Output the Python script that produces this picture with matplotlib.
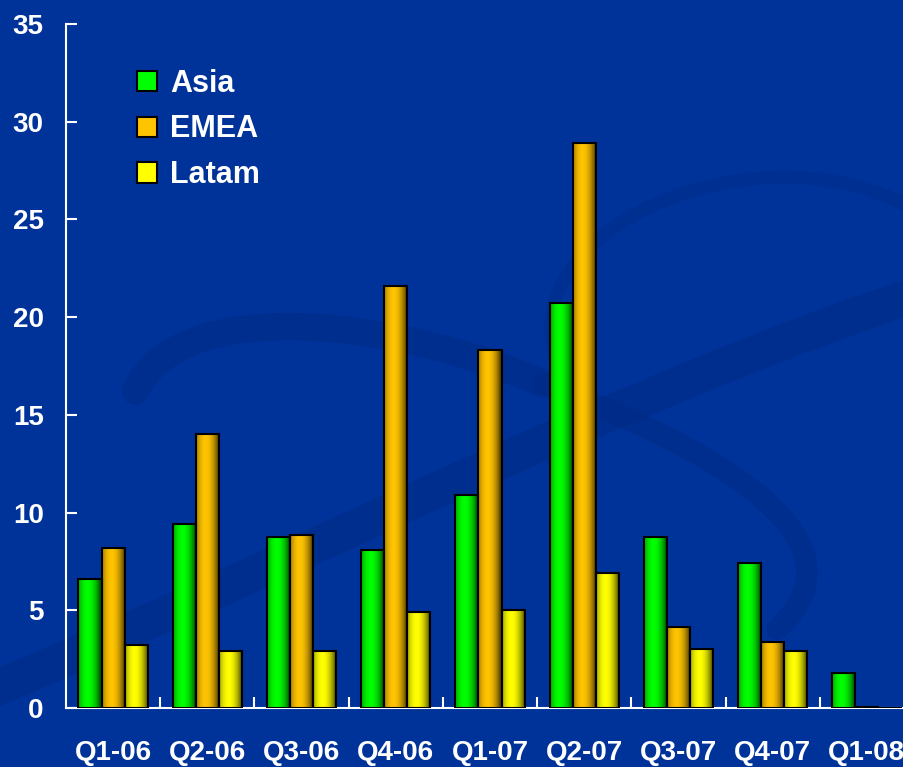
import numpy as np
import matplotlib
matplotlib.use("Agg")
import matplotlib.pyplot as plt
from matplotlib.patches import Patch, PathPatch
from matplotlib.path import Path
from matplotlib.colors import to_rgb

quarters = ["Q1-06", "Q2-06", "Q3-06", "Q4-06", "Q1-07", "Q2-07", "Q3-07", "Q4-07", "Q1-08"]
asia = [6.6, 9.4, 8.75, 8.1, 10.9, 20.7, 8.75, 7.4, 1.8]
emea = [8.2, 14.0, 8.85, 21.6, 18.3, 28.9, 4.15, 3.4, 0.05]
latam = [3.2, 2.9, 2.9, 4.9, 5.0, 6.9, 3.0, 2.9, 0.0]

series = [("Asia", asia, "#00ff00"), ("EMEA", emea, "#ffc400"), ("Latam", latam, "#ffff00")]
bg = "#00339a"

plt.rcParams["font.family"] = ["Liberation Sans", "DejaVu Sans"]
plt.rcParams["font.weight"] = "bold"

fig = plt.figure(figsize=(9.04, 7.67), dpi=100, facecolor=bg)

# faint background swirls, on an axes behind the chart
bgax = fig.add_axes([0, 0, 1, 1], zorder=-1)
bgax.set_xlim(0, 1)
bgax.set_ylim(0, 1)
bgax.axis("off")

def swirl(verts, lw, alpha):
    codes = [Path.MOVETO] + [Path.CURVE4] * (len(verts) - 1)
    bgax.add_patch(PathPatch(Path(verts, codes), fill=False, lw=lw,
                             edgecolor="#002a85", alpha=alpha, capstyle="round"))

swirl([(-0.05, 0.08), (0.3, 0.25), (0.7, 0.5), (1.05, 0.63)], 26, 0.5)
swirl([(0.15, 0.49), (0.2, 0.62), (0.45, 0.58), (0.6, 0.5)], 20, 0.5)
swirl([(0.6, 0.5), (0.78, 0.42), (0.97, 0.3), (0.86, 0.18)], 16, 0.5)
swirl([(0.62, 0.52), (0.55, 0.7), (0.85, 0.85), (1.02, 0.72)], 10, 0.35)

ax = fig.add_axes([66 / 904, 59 / 767, 848 / 904, 684 / 767])
ax.set_facecolor("none")

x = np.arange(len(quarters))
w = 0.245
t = np.linspace(0, 1, 64)
shade = 0.35 + 0.65 * np.clip(np.cos((t - 0.4) * 3.0), 0, 1) ** 0.8

for i, (name, vals, col) in enumerate(series):
    rgb = np.array(to_rgb(col))
    grad = (shade[:, None] * rgb[None, :])[None, :, :]
    pos = x + (i - 1) * w
    for xi, v in zip(pos, vals):
        if v > 0:
            ax.imshow(grad, extent=[xi - w / 2, xi + w / 2, 0, v], aspect="auto",
                      zorder=2, interpolation="bilinear")
    ax.bar(pos, vals, width=w, facecolor="none", edgecolor="black", lw=1.5, zorder=3)

ax.set_xlim(-0.5, len(quarters) - 0.5)
ax.set_ylim(0, 35)
ax.set_yticks(range(0, 36, 5))
ax.set_xticks(x)
ax.set_xticklabels(quarters)
ax.set_xticks(x[:-1] + 0.5, minor=True)

for s in ["top", "right"]:
    ax.spines[s].set_visible(False)
for s in ["left", "bottom"]:
    ax.spines[s].set_color("white")
    ax.spines[s].set_linewidth(1.5)

ax.tick_params(axis="y", direction="in", length=8, width=1.5, color="white",
               labelcolor="white", labelsize=20, pad=16)
ax.tick_params(axis="x", which="major", length=0, labelcolor="white", labelsize=20, pad=23)
ax.tick_params(axis="x", which="minor", direction="in", length=8, width=1.5, color="white")

handles = [Patch(facecolor=c, edgecolor="black", lw=1.5, label=n) for n, _, c in series]
ax.legend(handles=handles, loc="upper left", bbox_to_anchor=(0.051, 0.975),
          frameon=False, fontsize=22, labelcolor="white", handlelength=0.65,
          handleheight=0.65, handletextpad=0.45, labelspacing=0.52)

fig.savefig("out.png", dpi=100, facecolor=bg)
